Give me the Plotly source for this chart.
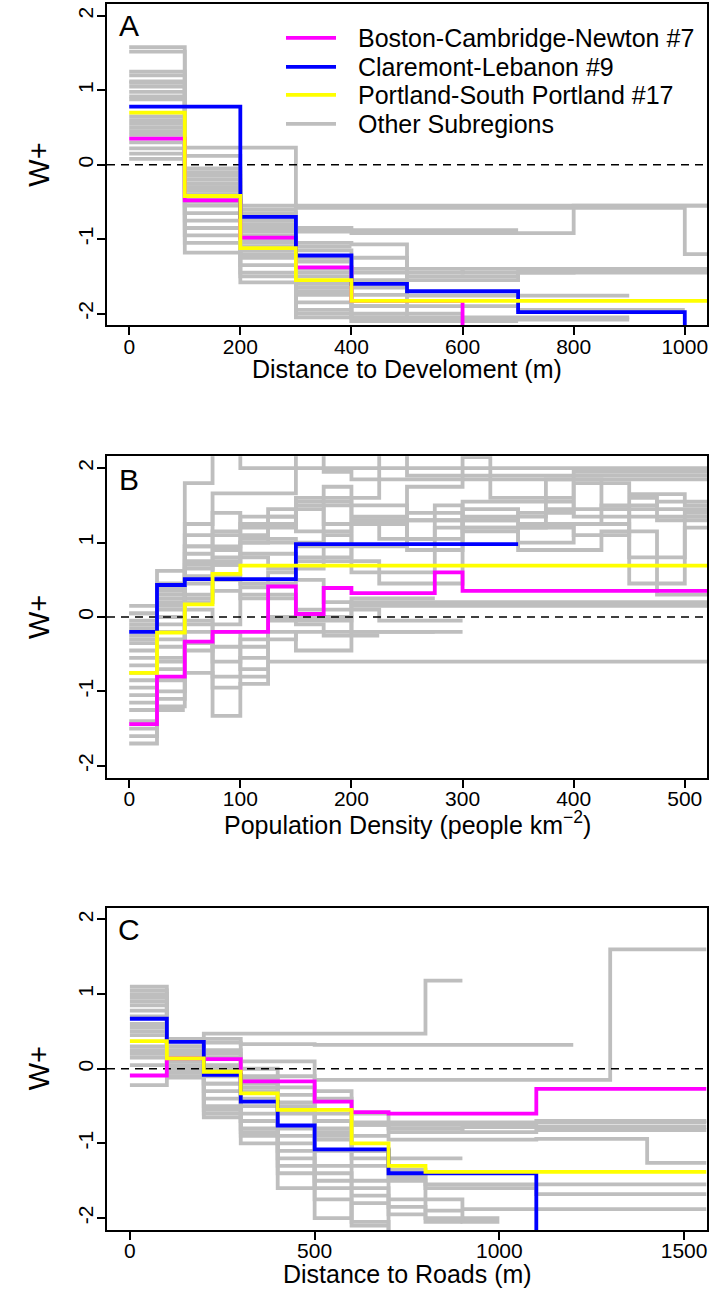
import plotly.graph_objects as go

# ---------------- data ----------------
names = ["Boston-Cambridge-Newton #7", "Claremont-Lebanon #9", "Portland-South Portland #17", "Other Subregions"]
colors = ["#FF00FF", "#0000FF", "#FFFF00", "#BEBEBE"]
y_ticks = [-2, -1, 0, 1, 2]
y_ticktext = ["-2", "-1", "0", "1", "2"]

# Panel A: distance to development
A_xticks = [0, 200, 400, 600, 800, 1000]
A_boston_x = [0, 100, 200, 300, 400, 600]
A_boston_y = [0.35, -0.48, -0.98, -1.38, -1.83, -3.0]
A_clare_x = [0, 200, 300, 400, 500, 700, 1000]
A_clare_y = [0.78, -0.70, -1.22, -1.60, -1.70, -1.98, -3.0]
A_port_x = [0, 100, 200, 300, 400, 1040]
A_port_y = [0.70, -0.42, -1.12, -1.55, -1.83, -1.83]
A_gray_breaks = [
    [0, 100, 300, 1040],
    [0, 100, 200, 300, 400, 800, 1040],
    [0, 100, 200, 300, 1000, 1040],
    [0, 100, 200, 300, 400, 700],
    [0, 100, 200, 300, 400, 500, 900],
    [0, 100, 200, 300, 400, 500, 700, 1040],
    [0, 100, 200, 300, 400, 600, 800, 1040],
    [0, 100, 200, 300, 400, 500, 700, 1040],
    [0, 100, 200, 300, 400, 500, 900],
    [0, 100, 200, 300, 400, 500],
    [0, 100, 200, 300, 400, 700, 1000],
    [0, 100, 200, 300, 400, 600],
    [0, 100, 200, 300, 400],
    [0, 100, 200, 300, 400, 500],
    [0, 100, 200, 300, 400, 900],
    [0, 100, 200, 300, 400, 500],
    [0, 100, 200, 300, 400, 700],
    [0, 100, 200, 300, 400, 600, 1040],
    [0, 100, 200, 300, 400],
    [0, 100, 200, 300, 400, 500],
]
A_gray_values = [
    [1.52, 0.23, -0.55],
    [1.58, -0.05, -0.60, -0.90, -0.92, -0.55],
    [1.25, -0.20, -0.55, -0.58, -1.20],
    [1.20, -0.30, -0.65, -0.85, -0.88],
    [1.12, -0.35, -0.75, -1.05, -1.07, -2.08],
    [1.05, -0.40, -0.80, -1.15, -1.25, -1.50, -1.42],
    [0.98, -0.10, -0.85, -1.25, -1.40, -1.45, -1.40],
    [0.92, -0.15, -0.90, -1.30, -1.55, -1.55, -1.45],
    [0.88, -0.25, -0.95, -1.40, -1.65, -1.76],
    [0.65, -0.45, -1.05, -1.50, -1.75],
    [0.60, -0.55, -1.10, -1.60, -1.90, -1.95],
    [0.55, -0.65, -1.20, -1.65, -2.00],
    [0.45, -0.75, -1.25, -1.75],
    [0.40, -0.85, -1.35, -1.85, -2.05],
    [0.22, -0.95, -1.45, -1.95, -2.05],
    [0.15, -1.05, -1.50, -2.00, -2.10],
    [0.08, -1.18, -1.58, -2.05, -2.10],
    [0.30, -0.50, -1.00, -1.45, -1.45, -1.40],
    [1.10, 0.12, -0.70, -1.10],
    [0.50, -0.30, -1.15, -1.70, -1.90],
]

# Panel B: population density
B_xticks = [0, 100, 200, 300, 400, 500]
B_boston_x = [0, 25, 50, 75, 125, 150, 175, 200, 275, 300, 520]
B_boston_y = [-1.44, -0.80, -0.33, -0.20, 0.41, 0.04, 0.39, 0.32, 0.60, 0.35, 0.35]
B_clare_x = [0, 25, 50, 150, 350]
B_clare_y = [-0.20, 0.43, 0.51, 0.98, 0.98]
B_port_x = [0, 25, 50, 75, 100, 520]
B_port_y = [-0.75, -0.21, 0.17, 0.58, 0.69, 0.69]
B_gray_breaks = [
    [0, 25, 50, 75, 100, 520],
    [0, 25, 50, 75, 150, 175, 200, 520],
    [0, 25, 50, 75, 100, 150, 225, 250, 520],
    [0, 25, 50, 100, 150, 200, 250, 300, 325, 400, 520],
    [0, 25, 50, 75, 125, 175, 225, 275, 300, 375, 425, 520],
    [0, 25, 50, 100, 125, 150, 200, 300, 400, 450, 475, 520],
    [0, 25, 50, 75, 100, 150, 250, 300, 350, 400, 450, 500, 520],
    [0, 25, 50, 75, 125, 175, 200, 275, 375, 450, 500, 520],
    [0, 25, 50, 75, 100, 150, 225, 300, 350, 425, 475, 520],
    [0, 25, 50, 75, 100, 125, 150, 175, 200, 520],
    [0, 25, 50, 75, 100, 150, 225, 300],
    [0, 25, 50, 75, 125, 200, 275],
    [0, 25, 50, 75, 100, 125, 150, 200, 520],
    [0, 25, 50, 75, 100, 125, 520],
    [0, 25, 50, 75, 100, 150, 275],
    [0, 25, 50, 75, 100, 125, 150, 175, 225],
    [0, 25, 50, 100, 150, 200, 300],
    [0, 25, 50, 75, 125],
    [0, 25, 50],
    [0, 25, 50, 100, 175, 250, 300, 400, 520],
    [0, 25, 75, 100, 150, 200, 250, 300, 350, 425, 475, 520],
    [0, 25, 50, 75, 100, 150, 175, 200, 350, 400, 450, 500, 520],
]
B_gray_values = [
    [0.15, 0.62, 1.80, 2.60, 2.00],
    [0.05, 0.45, 1.25, 1.66, 2.60, 1.95, 1.85],
    [-0.05, 0.35, 1.10, 1.40, 1.20, 1.60, 2.60, 1.90],
    [-0.15, 0.30, 0.95, 1.25, 1.55, 1.35, 1.75, 2.15, 1.60, 1.95],
    [-0.25, 0.20, 0.85, 1.10, 1.45, 1.25, 1.05, 1.50, 1.35, 1.85, 1.45],
    [-0.35, 0.10, 0.75, 1.00, 1.35, 1.15, 1.30, 1.20, 1.10, 1.60, 1.30],
    [-0.45, 0.00, 0.65, 0.90, 1.05, 0.95, 1.40, 1.15, 1.00, 1.25, 0.80, 1.40],
    [-0.55, -0.10, 0.55, 0.80, 0.65, 1.10, 0.60, 1.20, 1.45, 0.45, 1.20],
    [-0.65, -0.20, 0.45, 0.70, 0.85, 0.75, 0.45, 1.30, 0.90, 1.15, 0.30],
    [-0.75, -0.30, 0.30, 0.50, 0.40, 0.60, 0.50, 0.20, 0.15],
    [-0.85, -0.40, 0.20, 0.35, 0.25, 0.10, -0.05],
    [-0.95, -0.55, 0.10, -0.40, -0.05, 0.25],
    [-1.05, -0.60, -0.05, -1.33, -0.55, -0.20, -0.45, 0.20],
    [-1.15, -0.70, -0.20, -0.95, -0.90, -0.60],
    [-1.25, -0.85, -0.35, -0.60, -0.30, -0.20],
    [-1.40, -1.00, -0.45, -0.20, -0.70, 0.00, -0.10, -0.25],
    [-1.50, -1.10, -0.10, 0.30, 0.00, -0.20],
    [-1.60, -1.20, -0.75, -0.80],
    [-1.70, -1.25],
    [-0.10, 0.40, 0.70, 1.00, 1.50, 0.90, 1.55, 1.35],
    [0.05, 0.25, 0.55, 0.45, 0.80, 1.25, 1.05, 1.45, 1.25, 1.50, 1.55],
    [-0.30, 0.15, 0.95, 1.15, 1.35, 1.50, 1.75, 1.30, 1.40, 1.80, 1.65, 1.50],
]

# Panel C: distance to roads
C_xticks = [0, 500, 1000, 1500]
C_boston_x = [0, 100, 200, 300, 500, 600, 700, 1100, 1560]
C_boston_y = [-0.09, 0.14, 0.13, -0.17, -0.44, -0.58, -0.60, -0.27, -0.27]
C_clare_x = [0, 100, 200, 300, 400, 500, 700, 1100]
C_clare_y = [0.67, 0.36, -0.08, -0.44, -0.76, -1.08, -1.40, -3.0]
C_port_x = [0, 100, 200, 300, 400, 600, 700, 800, 1560]
C_port_y = [0.37, 0.14, -0.04, -0.33, -0.55, -1.00, -1.30, -1.38, -1.38]
C_gray_breaks = [
    [0, 100, 200, 300, 800, 900],
    [0, 100, 200, 300, 500, 1200],
    [0, 100, 200, 300, 500, 1300, 1560],
    [0, 100, 200, 300, 400, 500, 600, 1100, 1560],
    [0, 100, 200, 300, 400, 500, 600, 700, 900, 1560],
    [0, 100, 200, 300, 400, 500, 700, 900, 1100, 1560],
    [0, 100, 200, 300, 400, 500, 600, 700, 1100, 1400, 1560],
    [0, 100, 200, 300, 400, 500, 600, 700, 900],
    [0, 100, 200, 300, 400, 500, 600, 700, 800, 1560],
    [0, 100, 200, 300, 400, 500, 700, 800, 1100, 1560],
    [0, 100, 200, 300, 400, 500, 600, 700, 900, 1560],
    [0, 100, 200, 300, 400, 500, 600, 700, 800, 900],
    [0, 100, 200, 300, 400, 500, 700, 800, 1000],
    [0, 100, 200, 300, 400, 500, 600, 700, 800],
    [0, 100, 200, 300, 400, 500, 600, 700],
    [0, 100, 200, 300, 400, 500, 600, 700, 800],
    [0, 100, 200, 300, 400, 500, 600, 700, 800, 900, 1000],
    [0, 100, 200, 300, 400, 500, 600, 1560],
]
C_gray_values = [
    [1.10, 0.30, 0.47, 0.47, 1.18],
    [1.05, 0.25, 0.40, 0.33, 0.32],
    [0.95, 0.20, 0.35, 0.10, -0.15, 1.60],
    [0.90, 0.15, 0.25, 0.00, -0.10, -0.30, -0.75, -0.70],
    [0.85, 0.10, 0.15, -0.10, -0.25, -0.40, -0.75, -0.85, -0.78],
    [0.78, 0.05, 0.05, -0.20, -0.35, -0.60, -0.80, -0.85, -0.82],
    [0.60, 0.00, -0.05, -0.30, -0.50, -0.70, -0.90, -0.95, -0.94, -1.26],
    [0.55, 0.30, -0.10, -0.40, -0.60, -0.85, -1.10, -1.20],
    [0.50, 0.20, -0.20, -0.50, -0.80, -0.95, -1.20, -1.45, -1.55],
    [0.45, 0.10, -0.30, -0.60, -0.90, -1.10, -1.35, -1.60, -1.68],
    [0.30, -0.05, -0.40, -0.70, -1.00, -1.40, -1.50, -1.75, -1.88],
    [0.25, 0.00, -0.50, -0.80, -1.10, -1.50, -1.70, -1.95, -2.05],
    [0.20, -0.10, -0.60, -0.90, -1.20, -1.60, -1.85, -2.00],
    [0.15, 0.10, -0.65, -1.00, -1.30, -1.75, -2.05, -2.25],
    [0.05, -0.05, -0.20, -0.70, -1.60, -1.30, -2.10],
    [-0.22, -0.12, -0.55, -0.85, -1.40, -2.00, -1.80, -2.30],
    [1.00, 0.40, 0.20, -0.15, -0.45, -0.90, -1.30, -1.50, -1.90, -2.05],
    [0.70, 0.20, 0.00, -0.25, -0.55, -0.80, -0.72],
]

A_range = [-40, 1040]
B_range = [-20, 520]
C_range = [-62, 1562]
Y_range = [-2.16, 2.16]

# ---------------- figure ----------------
W, H = 711, 1312
ML, MR, MT, MB = 107, 4, 2, 82
PH = H - MT - MB


def py(p):
    return (H - MB - p) / PH


def px(p):
    return (p - ML) / (W - ML - MR)


fig = go.Figure()
LW = 3.8

panels = [
    ("x", "y", A_range, A_gray_breaks, A_gray_values,
     [(A_boston_x, A_boston_y), (A_clare_x, A_clare_y), (A_port_x, A_port_y)]),
    ("x2", "y2", B_range, B_gray_breaks, B_gray_values,
     [(B_boston_x, B_boston_y), (B_clare_x, B_clare_y), (B_port_x, B_port_y)]),
    ("x3", "y3", C_range, C_gray_breaks, C_gray_values,
     [(C_boston_x, C_boston_y), (C_clare_x, C_clare_y), (C_port_x, C_port_y)]),
]

for xa, ya, xr, gb, gv, hl in panels:
    for br, vals in zip(gb, gv):
        fig.add_trace(go.Scatter(x=br, y=list(vals) + [vals[-1]], mode="lines",
                                 line=dict(color=colors[3], width=LW, shape="hv"),
                                 xaxis=xa, yaxis=ya, showlegend=False, hoverinfo="skip"))
    fig.add_trace(go.Scatter(x=xr, y=[0, 0], mode="lines",
                             line=dict(color="black", width=1.6, dash="8px,6px"),
                             xaxis=xa, yaxis=ya, showlegend=False, hoverinfo="skip"))
    for (hx, hy), c in zip(hl, colors[:3]):
        fig.add_trace(go.Scatter(x=hx, y=hy, mode="lines",
                                 line=dict(color=c, width=LW, shape="hv"),
                                 xaxis=xa, yaxis=ya, showlegend=False, hoverinfo="skip"))

FONT = "Liberation Sans, Arial, sans-serif"
tickfont = dict(family=FONT, size=21, color="black")
axis_common = dict(showline=True, mirror=True, linecolor="black", linewidth=2,
                   ticks="outside", ticklen=8, tickwidth=1.6, tickcolor="black",
                   showgrid=False, zeroline=False, tickfont=tickfont)

domains = [(py(324), py(2)), (py(777), py(455)), (py(1230), py(907))]
xticks_list = [A_xticks, B_xticks, C_xticks]
ranges = [A_range, B_range, C_range]
for i in range(3):
    sx = "" if i == 0 else str(i + 1)
    fig.layout["xaxis" + sx] = dict(axis_common, domain=[0, 1], range=ranges[i],
                                    anchor="y" + sx, tickvals=xticks_list[i],
                                    ticktext=[str(v) for v in xticks_list[i]],
                                    ticklabelstandoff=-7)
    fig.layout["yaxis" + sx] = dict(axis_common, domain=list(domains[i]), range=Y_range,
                                    anchor="x" + sx, tickvals=y_ticks, ticktext=y_ticktext,
                                    tickangle=-90, ticklabelstandoff=-4)

ann = []
titles = [("Distance to Develoment (m)", 368),
          ("Population Density (people km<sup>−2</sup>)", 822),
          ("Distance to Roads (m)", 1274)]
for t, yp in titles:
    ann.append(dict(text=t, x=0.5, y=py(yp), xref="paper", yref="paper", showarrow=False,
                    xanchor="center", yanchor="middle", font=dict(family=FONT, size=25, color="black")))
for yc in [163, 616, 1068]:
    ann.append(dict(text="W+", x=px(39), y=py(yc), xref="paper", yref="paper", showarrow=False,
                    textangle=-90, xanchor="center", yanchor="middle",
                    font=dict(family=FONT, size=29, color="black")))
for lab, yc in [("A", 24), ("B", 478), ("C", 929)]:
    ann.append(dict(text=lab, x=px(129), y=py(yc), xref="paper", yref="paper", showarrow=False,
                    xanchor="center", yanchor="middle", font=dict(family=FONT, size=30, color="black")))

shapes = []
leg_rows = [36, 65, 93, 122]
for name, c, yr in zip(names, colors, leg_rows):
    shapes.append(dict(type="line", xref="paper", yref="paper", x0=px(286), x1=px(336),
                       y0=py(yr), y1=py(yr), line=dict(color=c, width=LW)))
    ann.append(dict(text=name, x=px(356), y=py(yr), xref="paper", yref="paper", showarrow=False,
                    xanchor="left", yanchor="middle", font=dict(family=FONT, size=25, color="black")))

fig.update_layout(width=W, height=H, margin=dict(l=ML, r=MR, t=MT, b=MB),
                  plot_bgcolor="white", paper_bgcolor="white",
                  annotations=ann, shapes=shapes, showlegend=False)

fig.write_html("out.html", config={"displayModeBar": False},
               post_script="document.body.style.margin='0';document.body.style.padding='0';")
